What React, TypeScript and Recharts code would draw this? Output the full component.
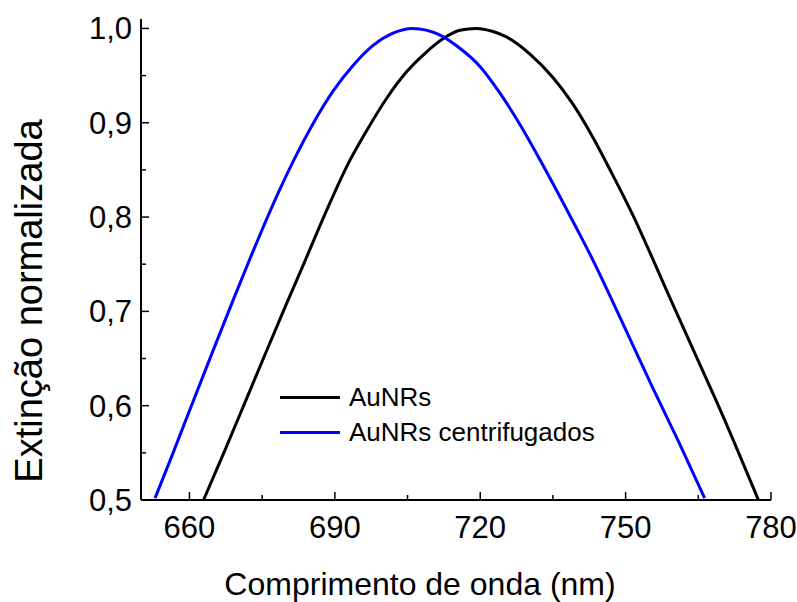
import React from 'react';
import { LineChart, Line, XAxis, YAxis, Legend, Label } from 'recharts';

const FONT = "Arial, 'Liberation Sans', sans-serif";

const wavelengthTicks = [660, 675, 690, 705, 720, 735, 750, 765, 780];
const extinctionTicks = [0.5, 0.55, 0.6, 0.65, 0.7, 0.75, 0.8, 0.85, 0.9, 0.95, 1.0];

const aunrsNm = [662.9, 667.0, 671.1, 675.9, 680.1, 683.8, 688.3, 692.4, 696.5, 700.7, 704.8, 708.9, 712.3, 715.8, 719.2, 722.5, 725.4, 730.2, 735.0, 739.1, 743.2, 747.4, 751.5, 755.3, 759.0, 764.5, 770.0, 774.8, 777.4];
const aunrsVal = [0.5, 0.549, 0.599, 0.658, 0.709, 0.753, 0.807, 0.853, 0.891, 0.926, 0.954, 0.975, 0.989, 0.998, 1.0, 0.997, 0.991, 0.973, 0.948, 0.92, 0.885, 0.844, 0.802, 0.759, 0.716, 0.653, 0.59, 0.532, 0.5];

const centNm = [652.9, 656.4, 660.1, 664.3, 668.7, 672.5, 677.3, 681.4, 685.5, 689.7, 693.8, 697.9, 702.0, 706.0, 711.7, 715.8, 719.9, 724.0, 728.1, 732.3, 736.4, 740.5, 743.1, 746.0, 750.8, 755.6, 761.1, 766.3];
const centVal = [0.502, 0.547, 0.596, 0.651, 0.708, 0.756, 0.814, 0.859, 0.899, 0.934, 0.961, 0.982, 0.995, 1.0, 0.993, 0.979, 0.96, 0.932, 0.899, 0.861, 0.822, 0.782, 0.756, 0.725, 0.672, 0.619, 0.56, 0.502];

const seriesNames = ['AuNRs', 'AuNRs centrifugados'];
const seriesColors = ['#000000', '#0000ff'];

const aunrsData = aunrsNm.map((nm, i) => ({ nm, v: aunrsVal[i] }));
const centData = centNm.map((nm, i) => ({ nm, v: centVal[i] }));

const X_DOMAIN = [650, 780];
const Y_DOMAIN = [0.5, 1.01];

const isMajorX = (v: number) => Math.abs(v % 30) < 1e-6;
const isMajorY = (v: number) => Math.round(v * 100) % 10 === 0;

const BottomTick = (p: any) => {
  const { x, y, payload } = p;
  const major = isMajorX(payload.value);
  return (
    <g>
      <line x1={x} x2={x} y1={y} y2={y - (major ? 8 : 5)} stroke="#000" strokeWidth={1.5} />
      {major && (
        <text x={x} y={y + 38} textAnchor="middle" fontSize={31} fontFamily={FONT} fill="#000">
          {payload.value}
        </text>
      )}
    </g>
  );
};

const TopTick = (p: any) => {
  const { x, y } = p;
  return <line x1={x} x2={x} y1={y} y2={y + 4} stroke="#000" strokeWidth={1.2} />;
};

const LeftTick = (p: any) => {
  const { x, y, payload } = p;
  const major = isMajorY(payload.value);
  return (
    <g>
      <line x1={x} x2={x + (major ? 8 : 5)} y1={y} y2={y} stroke="#000" strokeWidth={1.5} />
      {major && (
        <text x={x - 9} y={y + 11} textAnchor="end" fontSize={31} fontFamily={FONT} fill="#000">
          {payload.value.toFixed(1).replace('.', ',')}
        </text>
      )}
    </g>
  );
};

const RightTick = (p: any) => {
  const { x, y } = p;
  return <line x1={x} x2={x - 4} y1={y} y2={y} stroke="#000" strokeWidth={1.2} />;
};

const YTitle = (props: any) => {
  const vb = props.viewBox || {};
  const cx = vb.x - 19;
  const cy = 301;
  return (
    <text
      x={cx}
      y={cy}
      textAnchor="middle"
      fontSize={38}
      fontFamily={FONT}
      fill="#000"
      transform={`rotate(-90, ${cx}, ${cy})`}
    >
      Extinção normalizada
    </text>
  );
};

const XTitle = (props: any) => {
  const vb = props.viewBox || {};
  return (
    <text x={420} y={vb.y + 95} textAnchor="middle" fontSize={32} fontFamily={FONT} fill="#000">
      Comprimento de onda (nm)
    </text>
  );
};

const renderLegend = () => (
  <div style={{ fontFamily: FONT, fontSize: 26, color: '#000' }}>
    {seriesNames.map((name, i) => (
      <div key={name} style={{ display: 'flex', alignItems: 'center', height: 34.7, whiteSpace: 'nowrap' }}>
        <span style={{ display: 'inline-block', width: 60, height: 3, background: seriesColors[i], marginRight: 9 }} />
        <span style={{ lineHeight: '34.7px' }}>{name}</span>
      </div>
    ))}
  </div>
);

export default function App() {
  return (
    <div style={{ position: 'absolute', left: 0, top: 0, width: 797, height: 602, background: '#fff' }}>
      <LineChart width={797} height={602} margin={{ top: 19, right: 26, bottom: 42, left: 61 }}>
        <XAxis
          xAxisId="bottom"
          dataKey="nm"
          type="number"
          domain={X_DOMAIN}
          ticks={wavelengthTicks}
          allowDataOverflow
          height={60}
          tickSize={0}
          tickMargin={0}
          tickLine={false}
          axisLine={{ stroke: '#000', strokeWidth: 2 }}
          tick={BottomTick}
          interval={0}
        >
          <Label content={XTitle} />
        </XAxis>
        <XAxis
          xAxisId="top"
          orientation="top"
          dataKey="nm"
          type="number"
          domain={X_DOMAIN}
          ticks={wavelengthTicks}
          allowDataOverflow
          height={0}
          tickSize={0}
          tickMargin={0}
          tickLine={false}
          axisLine={{ stroke: '#000', strokeWidth: 2 }}
          tick={TopTick}
          interval={0}
        />
        <YAxis
          yAxisId="left"
          type="number"
          domain={Y_DOMAIN}
          ticks={extinctionTicks}
          allowDataOverflow
          width={80}
          tickSize={0}
          tickMargin={0}
          tickLine={false}
          axisLine={{ stroke: '#000', strokeWidth: 2 }}
          tick={LeftTick}
          interval={0}
        >
          <Label content={YTitle} />
        </YAxis>
        <YAxis
          yAxisId="right"
          orientation="right"
          type="number"
          domain={Y_DOMAIN}
          ticks={extinctionTicks}
          allowDataOverflow
          width={0}
          tickSize={0}
          tickMargin={0}
          tickLine={false}
          axisLine={{ stroke: '#000', strokeWidth: 2 }}
          tick={RightTick}
          interval={0}
        />
        <Legend
          layout="vertical"
          align="center"
          verticalAlign="middle"
          content={renderLegend}
          wrapperStyle={{ left: 280, top: 380, width: 'auto', height: 'auto' }}
        />
        <Line
          xAxisId="bottom"
          yAxisId="left"
          data={aunrsData}
          dataKey="v"
          name={seriesNames[0]}
          stroke={seriesColors[0]}
          strokeWidth={3}
          dot={false}
          activeDot={false}
          type="monotone"
          isAnimationActive={false}
        />
        <Line
          xAxisId="bottom"
          yAxisId="left"
          data={centData}
          dataKey="v"
          name={seriesNames[1]}
          stroke={seriesColors[1]}
          strokeWidth={3}
          dot={false}
          activeDot={false}
          type="monotone"
          isAnimationActive={false}
        />
      </LineChart>
    </div>
  );
}
